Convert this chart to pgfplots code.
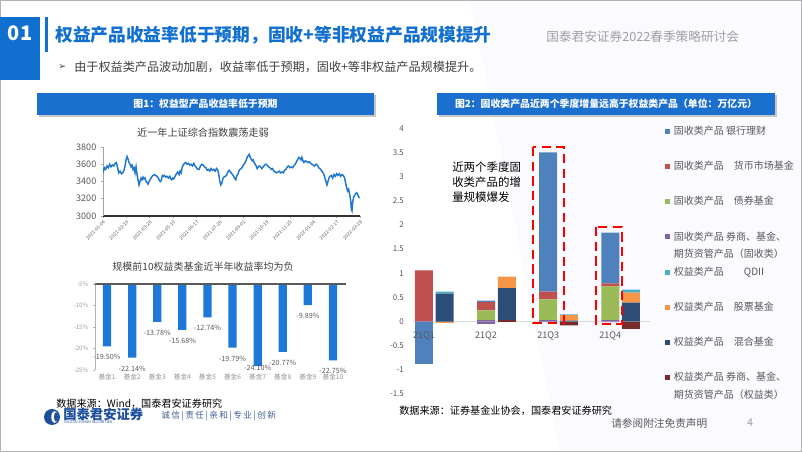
\documentclass[border=0pt]{standalone}
\usepackage{fontspec}
\usepackage{pgfplots}
\usepackage{pgfplotstable}
\pgfplotsset{compat=1.18}
\setmainfont{Noto Sans CJK SC}
\newfontfamily\dejavu{DejaVu Sans}
\definecolor{mainblue}{HTML}{1170CF}
\definecolor{barhead}{HTML}{1B6FCE}
\definecolor{lineblue}{HTML}{1F77D0}
\definecolor{barblue}{HTML}{1E78D7}
\definecolor{gtext}{HTML}{595959}
\definecolor{dtext}{HTML}{404040}
\definecolor{hgray}{HTML}{A0A0A0}
\definecolor{sA}{HTML}{4F81BD}
\definecolor{sB}{HTML}{C0504D}
\definecolor{sC}{HTML}{9BBB59}
\definecolor{sD}{HTML}{8064A2}
\definecolor{sE}{HTML}{4BACC6}
\definecolor{sF}{HTML}{F79646}
\definecolor{sG}{HTML}{2C4D75}
\definecolor{sH}{HTML}{772C2A}
\definecolor{logoblue}{HTML}{1D4F9C}

% stacking order bottom->top: s1 券商权益, s2 混合, s3 股票, s4 QDII, s5 券商固收, s6 债券, s7 货币, s8 银行理财
\pgfplotstableread{
x  s1   s2   s3   s4   s5   s6   s7   s8
0  0    0    0    0    0.01 0    1.05 0
1  0    0.58 0    0.04 0    0    0    0
3  0    0    0    0    0.03 0.20 0.17 0.03
4  0.03 0.66 0.24 0    0    0    0    0
6  0    0    0    0    0.03 0.43 0.16 2.88
7  0    0.02 0.11 0.02 0    0    0    0
9  0    0    0    0    0.03 0.70 0.06 1.05
10 0    0.39 0.21 0.06 0    0    0    0
}\postab
\pgfplotstableread{
x  s1    s2   s3    s4   s5    s6   s7   s8
0  0     0    0     0    0     0    0    -0.87
1  0     0    -0.04 0    0     0    0    0
3  0     0    0     0    -0.05 0    0    0
4  0     0    0     0    0     0    0    0
6  0     0    0     0    0     0    0    0
7  -0.08 0    0     0    0     0    0    0
9  0     0    0     0    -0.01 0    0    0
10 -0.15 0    0     0    0     0    0    0
}\negtab

\begin{document}
\begin{tikzpicture}[x=0.75pt,y=0.75pt]
\useasboundingbox (0,0) rectangle (802,452);
\fill[white] (0,0) rectangle (802,452);
\fill[blue!2!white] (470,452) -- (802,452) -- (802,0) -- (560,0) -- cycle;
\draw[gray!60, line width=1.2pt] (0.6,0.6) rectangle (801.4,451.4);

% header
\fill[mainblue] (0,435) rectangle (40,372);
\node[text=white, font=\fontsize{15}{16}\bfseries\selectfont] at (20,419) {01};
\fill[mainblue] (45,435) rectangle (48,400);
\node[anchor=west, inner sep=0, text=mainblue, font=\fontsize{13.3}{15}\bfseries\selectfont] at (55,417) {权益产品收益率低于预期，固收+等非权益产品规模提升};
\node[anchor=west, inner sep=0, text=hgray, font=\fontsize{9.5}{11}\selectfont] at (546,415) {国泰君安证券2022春季策略研讨会};
\node[anchor=west, inner sep=0, text=dtext, font=\fontsize{7}{8}\dejavu] at (58,385) {➢};
\node[anchor=west, inner sep=0, text=dtext, font=\fontsize{9.1}{11}\selectfont] at (74,385) {由于权益类产品波动加剧，收益率低于预期，固收+等非权益产品规模提升。};

% panel headers
\fill[gray!45] (39,357) rectangle (376,335);
\fill[barhead] (37,359) rectangle (374,337);
\node[text=white, font=\fontsize{7.4}{9}\bfseries\selectfont] at (205.5,348) {图1：权益型产品收益率低于预期};
\fill[gray!45] (439,357) rectangle (777,335);
\fill[barhead] (437,359) rectangle (775,337);
\node[text=white, font=\fontsize{7.4}{9}\bfseries\selectfont] at (606,348) {图2：固收类产品近两个季度增量远高于权益类产品（单位：万亿元）};

% chart titles
\node[text=dtext, font=\fontsize{7.6}{9}\selectfont] at (203,319) {近一年上证综合指数震荡走弱};
\node[text=dtext, font=\fontsize{7.5}{9}\selectfont] at (203,185) {规模前10权益类基金近半年收益率均为负};

% line chart
\begin{axis}[at={(77.25pt,177pt)}, anchor=south west, scale only axis,
  width=192.75pt, height=51.75pt,
  xmin=190, xmax=960, ymin=3000, ymax=3800,
  /pgf/number format/assume math mode=true,
  /pgf/number format/set thousands separator={},
  separate axis lines,
  axis x line*=bottom, axis y line*=left,
  x axis line style={black!80, line width=0.8pt},
  y axis line style={gray!70, line width=0.4pt},
  ytick={3000,3200,3400,3600,3800},
  xtick={190,260,...,960},
  xticklabels={2021-01-04,2021-02-10,2021-03-26,2021-05-10,2021-06-17,2021-07-26,2021-09-01,2021-10-19,2021-11-25,2022-01-04,2022-02-17,2022-03-28},
  tick align=outside, major tick length=1.5pt,
  tick style={gray!70, line width=0.4pt},
  yticklabel style={font=\fontsize{6.8}{8}\selectfont, text=gtext},
  xticklabel style={rotate=45, anchor=north east, font=\fontsize{3.6}{4}\selectfont, text=gtext, inner sep=1pt},
  ]
\addplot[lineblue, line width=1.1pt] coordinates {
(190,3500) (194,3560) (198,3540) (202,3580) (206,3560) (210,3600) (214,3570) (218,3590) (222,3580) (226,3610) (230,3620) (234,3560) (237,3500) (241,3520) (245,3490) (249,3500) (253,3530) (256,3580) (259,3650) (262,3690) (265,3660) (268,3620) (271,3600) (274,3570) (277,3590) (280,3540) (283,3560) (286,3500) (289,3570) (292,3480) (295,3420) (298,3360) (301,3400) (304,3440) (307,3420) (310,3450) (313,3430) (316,3440) (319,3400) (322,3390) (325,3370) (328,3400) (331,3420) (334,3440) (337,3460) (340,3470) (344,3480) (348,3470) (352,3460) (356,3440) (359,3410) (362,3400) (365,3420) (368,3470) (371,3460) (374,3470) (378,3450) (382,3460) (386,3440) (390,3460) (393,3430) (396,3420) (399,3440) (402,3430) (406,3460) (410,3490) (414,3510) (418,3480) (421,3520) (424,3500) (427,3560) (430,3590) (434,3610) (438,3620) (442,3600) (446,3610) (450,3590) (454,3600) (458,3580) (462,3610) (466,3580) (470,3560) (474,3540) (478,3540) (482,3580) (486,3600) (490,3590) (494,3570) (498,3560) (502,3530) (506,3540) (510,3520) (514,3550) (518,3530) (522,3540) (526,3520) (530,3550) (534,3530) (537,3480) (540,3400) (543,3360) (546,3380) (549,3430) (552,3450) (556,3460) (560,3470) (564,3510) (568,3530) (572,3510) (576,3490) (580,3470) (584,3440) (588,3420) (591,3470) (594,3480) (597,3520) (600,3540) (604,3550) (608,3570) (612,3600) (616,3620) (619,3650) (622,3680) (625,3700) (628,3715) (631,3680) (634,3660) (637,3640) (640,3650) (643,3620) (646,3600) (649,3580) (652,3550) (655,3570) (658,3580) (662,3570) (666,3550) (670,3570) (674,3590) (678,3600) (682,3590) (686,3570) (690,3560) (694,3540) (698,3550) (702,3520) (706,3510) (710,3500) (714,3510) (718,3520) (722,3500) (726,3510) (730,3500) (734,3530) (738,3540) (742,3570) (746,3580) (750,3560) (754,3570) (758,3560) (762,3580) (766,3600) (770,3630) (774,3660) (777,3680) (780,3670) (783,3650) (786,3680) (789,3640) (792,3620) (796,3640) (800,3630) (804,3620) (808,3630) (812,3610) (816,3600) (820,3590) (824,3580) (828,3600) (832,3590) (836,3560) (840,3550) (844,3530) (848,3510) (852,3480) (855,3440) (858,3400) (861,3360) (864,3400) (867,3440) (870,3460) (874,3470) (878,3440) (882,3480) (886,3460) (890,3490) (894,3470) (898,3490) (902,3460) (906,3480) (910,3470) (914,3440) (917,3380) (920,3330) (923,3290) (926,3310) (929,3250) (932,3180) (934,3080) (936,3060) (938,3160) (941,3220) (944,3240) (947,3260) (950,3270) (953,3250) (956,3220) (959,3210)
};
\end{axis}

% bar chart 1
\begin{axis}[at={(71.25pt,61.5pt)}, anchor=south west, scale only axis,
  width=188.25pt, height=64.5pt,
  xmin=0.52, xmax=10.52, ymin=-25, ymax=-5,
  /pgf/number format/assume math mode=true,
  ybar, bar width=0.33,
  separate axis lines,
  axis x line*=bottom, axis y line*=left,
  x axis line style={draw=none},
  y axis line style={gray!60, line width=0.4pt},
  xtick={1,...,10},
  xticklabels={基金1,基金2,基金3,基金4,基金5,基金6,基金7,基金8,基金9,基金10},
  ytick={-25,-20,-15,-10,-5},
  yticklabel={\pgfmathprintnumber{\tick}\%},
  tick align=outside, xtick style={draw=none},
  ytick style={gray!60, line width=0.4pt}, major tick length=1.5pt,
  yticklabel style={font=\fontsize{4.6}{5}\selectfont, text=gray!75},
  xticklabel style={font=\fontsize{5}{6}\selectfont, text=gray!85, inner sep=1pt},
  nodes near coords={\pgfmathprintnumber[fixed,fixed zerofill,precision=2]{\pgfplotspointmeta}\%},
  every node near coord/.append style={font=\fontsize{5.4}{6}\selectfont, text=gtext, yshift=-2.5pt},
  coordinate style/.condition={\coordindex==6}{yshift=7pt},
  ]
\addplot[fill=barblue, draw=none] coordinates {(1,-19.50) (2,-22.14) (3,-13.78) (4,-15.68) (5,-12.74) (6,-19.79) (7,-24.10) (8,-20.77) (9,-9.89) (10,-22.75)};
\draw[gtext, line width=1.4pt] (rel axis cs:0,1) -- (rel axis cs:1,1);
\end{axis}

% chart 2: negative parts (drawn first)
\begin{axis}[at={(309.45pt,43.5pt)}, anchor=south west, scale only axis,
  width=177.75pt, height=199.3pt,
  xmin=-0.55, xmax=10.9, ymin=-1.5, ymax=4,
  ybar stacked, bar width=0.87, hide axis,
  ]
\addplot[fill=sH, draw=none] table[x=x, y=s1] {\negtab};
\addplot[fill=sG, draw=none] table[x=x, y=s2] {\negtab};
\addplot[fill=sF, draw=none] table[x=x, y=s3] {\negtab};
\addplot[fill=sE, draw=none] table[x=x, y=s4] {\negtab};
\addplot[fill=sD, draw=none] table[x=x, y=s5] {\negtab};
\addplot[fill=sC, draw=none] table[x=x, y=s6] {\negtab};
\addplot[fill=sB, draw=none] table[x=x, y=s7] {\negtab};
\addplot[fill=sA, draw=none] table[x=x, y=s8] {\negtab};
\end{axis}

% chart 2: positive parts (with legend and labels)
\begin{axis}[at={(309.45pt,43.5pt)}, anchor=south west, scale only axis,
  width=177.75pt, height=199.3pt,
  xmin=-0.55, xmax=10.9, ymin=-1.5, ymax=4,
  /pgf/number format/assume math mode=true,
  ybar stacked, bar width=0.87,
  axis line style={draw=none},
  ytick={-1.5,-1,-0.5,0,0.5,1,1.5,2,2.5,3,3.5,4},
  xtick={0,3,6,9}, xticklabels={21Q1,21Q2,21Q3,21Q4},
  major tick length=0pt,
  yticklabel style={font=\fontsize{6}{7}\selectfont, text=gtext, xshift=-3pt},
  xticklabel style={font=\fontsize{6.8}{8}\selectfont, text=gtext, yshift=50pt},
  extra y ticks={0}, extra y tick labels={},
  extra y tick style={grid=major, major grid style={gray!30, line width=0.6pt}},
  reverse legend,
  legend image code/.code={\fill[#1] (0pt,-1.9pt) rectangle (3.8pt,1.9pt);},
  legend style={draw=none, fill=none, inner sep=0pt, at={(1.063,1.056)}, anchor=north west,
    font=\fontsize{7.5}{9}\selectfont, text=gtext, row sep=0pt, column sep=3pt,
    nodes={minimum height=26.4pt, inner sep=0pt}},
  legend cell align=left,
  ]
\addplot[fill=sH, draw=none] table[x=x, y=s1] {\postab};
\addlegendentry{\raisebox{0pt}[\height][0pt]{\begin{tabular}[t]{@{}l@{}}权益类产品 券商、基金、\\[4pt]期货资管产品（权益类）\end{tabular}}}
\addplot[fill=sG, draw=none] table[x=x, y=s2] {\postab};
\addlegendentry{权益类产品　混合基金}
\addplot[fill=sF, draw=none] table[x=x, y=s3] {\postab};
\addlegendentry{权益类产品　股票基金}
\addplot[fill=sE, draw=none] table[x=x, y=s4] {\postab};
\addlegendentry{权益类产品　　QDII}
\addplot[fill=sD, draw=none] table[x=x, y=s5] {\postab};
\addlegendentry{\raisebox{0pt}[\height][0pt]{\begin{tabular}[t]{@{}l@{}}固收类产品 券商、基金、\\[4pt]期货资管产品（固收类）\end{tabular}}}
\addplot[fill=sC, draw=none] table[x=x, y=s6] {\postab};
\addlegendentry{固收类产品　债券基金}
\addplot[fill=sB, draw=none] table[x=x, y=s7] {\postab};
\addlegendentry{固收类产品　货币市场基金}
\addplot[fill=sA, draw=none] table[x=x, y=s8] {\postab};
\addlegendentry{固收类产品 银行理财}
\end{axis}

% annotations chart 2
\draw[red, line width=2.2pt, dash pattern=on 7pt off 4pt] (533,305) rectangle (564,129);
\draw[red, line width=2.2pt, dash pattern=on 7pt off 4pt] (596,225) rectangle (622,128);
\node[anchor=north west, align=left, inner sep=0, font=\fontsize{8.6}{10.9}\selectfont] at (452,290) {近两个季度固\\收类产品的增\\量规模爆发};

% sources and footer
\node[anchor=west, inner sep=0, font=\fontsize{7.6}{9}\selectfont] at (56,48) {数据来源：Wind，国泰君安证券研究};
\node[anchor=west, inner sep=0, font=\fontsize{7.6}{9}\selectfont] at (399,41) {数据来源：证券基金业协会，国泰君安证券研究};
\node[anchor=west, inner sep=0, text=gtext, font=\fontsize{8}{9}\selectfont] at (611,29) {请参阅附注免责声明};
\node[text=hgray, font=\fontsize{8}{9}\selectfont] at (750,29) {4};

% logo
\fill[logoblue] (52,35) circle (8);
\fill[white] (54.5,35) ellipse (3.2 and 6);
\fill[logoblue] (56,35) ellipse (2 and 4.5);
\node[anchor=west, inner sep=0, text=logoblue, font=\fontsize{10}{11}\bfseries\selectfont] at (63,38) {国泰君安证券};
\node[anchor=west, inner sep=0, text=logoblue, font=\fontsize{2.8}{3}\selectfont] at (64,29.5) {GUOTAI JUNAN SECURITIES};
\node[anchor=west, inner sep=0, text=logoblue!70!gray, font=\fontsize{6.5}{7}\selectfont] at (161,36) {诚\,信\,|\,责\,任\,|\,亲\,和\,|\,专\,业\,|\,创\,新};
\end{tikzpicture}
\end{document}
